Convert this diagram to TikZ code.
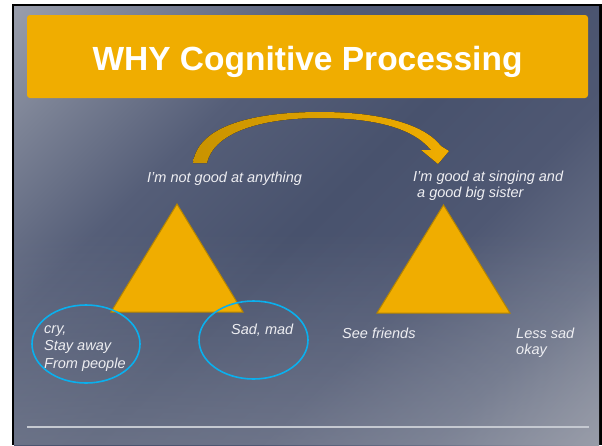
\documentclass[tikz,border=0pt]{standalone}
\usepackage{fontspec}
\setmainfont{Liberation Sans}
\usetikzlibrary{fadings}
\definecolor{gold}{HTML}{F0AD00}
\definecolor{goldedge}{HTML}{B58500}
\definecolor{golddark}{HTML}{C99300}
\definecolor{txt}{HTML}{EEEEF2}
\definecolor{cyanline}{HTML}{0AB0EE}
\definecolor{rulecol}{HTML}{C5C9D1}
\definecolor{bgA}{HTML}{979CAA}
\definecolor{bgB}{HTML}{7A8194}
\definecolor{bgC}{HTML}{555E78}
\definecolor{bgD}{HTML}{48526D}
\definecolor{bgE}{HTML}{4F5873}
\definecolor{bgF}{HTML}{6A7288}
\definecolor{bgG}{HTML}{9A9EAA}
\pgfdeclarehorizontalshading{slidebg}{100bp}{color(0bp)=(bgA); color(15bp)=(bgA); color(24bp)=(bgB); color(36bp)=(bgC); color(50bp)=(bgD); color(62bp)=(bgE); color(74bp)=(bgF); color(86bp)=(bgG); color(100bp)=(bgG)}
\tikzset{
  titlebox/.style={fill=gold, rounded corners=3pt, inner sep=0pt},
  titletext/.style={text=white, font=\fontsize{33.5}{40}\selectfont\bfseries, inner sep=0pt, anchor=base},
  lbl/.style={text=txt, font=\fontsize{14.5}{17.5}\selectfont\itshape, inner sep=0pt, anchor=base west},
  tri/.style={fill=gold, draw=goldedge, line width=1pt, line join=miter},
  ring/.style={draw=cyanline, line width=1.6pt},
}
\begin{document}
\begin{tikzpicture}[x=1pt,y=-1pt]
\useasboundingbox (0,0) rectangle (602,445);
\fill[white] (0,0) rectangle (602,445);
\fill[black] (12,4) rectangle (602,445);
\shade[shading=slidebg, shading angle=-45] (14,6) rectangle (599,445);
\fill[bgG, fill opacity=0.4, path fading=north] (14,230) rectangle (599,445);
% title
\fill[titlebox] (27,15) rectangle (588,98);
\node[titletext] (title) at (307.5,70.5) {WHY Cognitive Processing};
% arrow
\coordinate (tailL) at (193,163);
\coordinate (tailR) at (207,163);
\coordinate (tip) at (438,164);
\fill[left color=golddark, right color=gold]
  (tailL) .. controls (198,124) and (258,112) .. (320,112)
  .. controls (380,112) and (424,124) .. (441,146)
  -- (449,151) -- (tip) -- (421,150) -- (431,150)
  .. controls (412,127) and (372,118) .. (320,118)
  .. controls (262,118) and (214,132) .. (tailR) -- cycle;
% triangles
\draw[tri] (177,204) -- (243,312) -- (111,312) -- cycle;
\draw[tri] (443.5,205) -- (510,313) -- (377,313) -- cycle;
% labels
\node[lbl] (l1) at (147,182) {I’m not good at anything};
\node[lbl] (r1a) at (413,181) {I’m good at singing and};
\node[lbl] (r1b) at (417,197.5) {a good big sister};
\node[lbl] (c1) at (44,333) {cry,};
\node[lbl] (c2) at (44,350.5) {Stay away};
\node[lbl] (c3) at (44,368) {From people};
\node[lbl] (sm) at (231,334) {Sad, mad};
\node[lbl] (sf) at (342,338) {See friends};
\node[lbl] (ls1) at (516,338) {Less sad};
\node[lbl] (ls2) at (516,354.5) {okay};
% ellipses
\draw[ring] (86,344) ellipse [x radius=54, y radius=39];
\draw[ring] (253.5,340) ellipse [x radius=54.5, y radius=39];
% bottom rule
\coordinate (ruleL) at (27,427);
\coordinate (ruleR) at (589,427);
\draw[rulecol, line width=1.4pt] (ruleL) -- (ruleR);
\end{tikzpicture}
\end{document}
